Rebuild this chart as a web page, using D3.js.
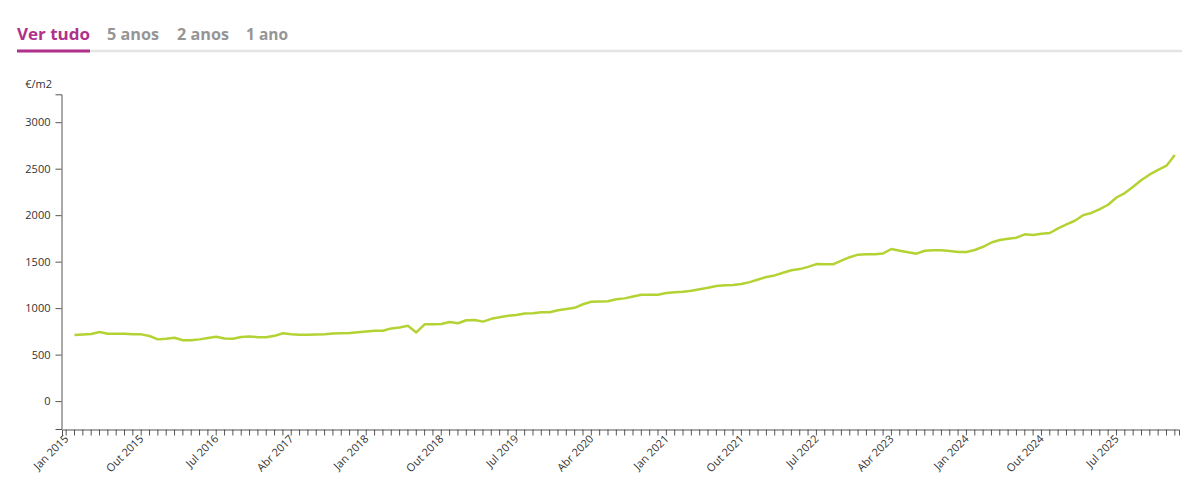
<!DOCTYPE html>
<html>
<head>
<meta charset="utf-8">
<script src="https://cdn.jsdelivr.net/npm/d3@7"></script>
<style>
  html, body { margin: 0; padding: 0; background: #fff; }
  svg { display: block; font-family: "Open Sans", "Noto Sans", sans-serif; }
</style>
</head>
<body>
<svg id="chart" width="1200" height="493"></svg>
<script>
// ---- data ----
const tabs = ["Ver tudo", "5 anos", "2 anos", "1 ano"];
const unitLabel = "€/m2";
const monthNames = ["Jan","Fev","Mar","Abr","Mai","Jun","Jul","Ago","Set","Out","Nov","Dez"];
const firstYear = 2015;
const monthCount = 134; // Jan 2015 .. Fev 2026
const tickLabels = ["Jan 2015","Out 2015","Jul 2016","Abr 2017","Jan 2018","Out 2018","Jul 2019",
  "Abr 2020","Jan 2021","Out 2021","Jul 2022","Abr 2023","Jan 2024","Out 2024","Jul 2025"];
const yTicks = [0, 500, 1000, 1500, 2000, 2500, 3000];
const yDomain = [-300, 3300];
// values from Fev 2015 to Fev 2026 (Jan 2015 has no value)
const values = [null,
  710, 716, 721, 743, 724, 724, 724, 718, 718, 700, 664,
  670, 681, 655, 655, 664, 678, 692, 673, 671, 689, 696, 688,
  686, 702, 730, 720, 714, 714, 716, 718, 728, 730, 733, 740,
  748, 757, 757, 782, 792, 810, 739, 826, 828, 829, 850, 838,
  870, 872, 855, 885, 903, 918, 926, 942, 944, 955, 955, 978,
  990, 1003, 1042, 1068, 1072, 1075, 1095, 1105, 1125, 1144, 1144, 1144,
  1162, 1170, 1176, 1188, 1203, 1220, 1238, 1245, 1250, 1259, 1280, 1308,
  1335, 1352, 1380, 1407, 1420, 1444, 1474, 1473, 1471, 1510, 1548, 1575,
  1579, 1579, 1588, 1636, 1618, 1601, 1586, 1617, 1622, 1622, 1615, 1604,
  1604, 1625, 1660, 1706, 1733, 1747, 1758, 1794, 1787, 1800, 1808, 1858,
  1900, 1940, 2000, 2024, 2066, 2112, 2190, 2238, 2306, 2378, 2438, 2487,
  2532, 2648
];

const categories = [];
for (let i = 0; i < monthCount; i++) {
  categories.push(monthNames[i % 12] + " " + (firstYear + Math.floor(i / 12)));
}

// ---- drawing ----
const svg = d3.select("#chart");
const accent = "#b0318b";

// tabs
const tabX = [17, 107, 177, 246];
svg.append("line").attr("x1", 17).attr("x2", 1182).attr("y1", 51).attr("y2", 51)
  .attr("stroke", "#e4e4e4").attr("stroke-width", 2.5);
svg.append("line").attr("x1", 17).attr("x2", 90).attr("y1", 51).attr("y2", 51)
  .attr("stroke", accent).attr("stroke-width", 3);
svg.selectAll("text.tab").data(tabs).join("text")
  .attr("class", "tab")
  .attr("x", (d, i) => tabX[i]).attr("y", 40)
  .attr("font-size", 16.5).attr("font-weight", 700)
  .attr("fill", (d, i) => i === 0 ? accent : "#959595")
  .attr("textLength", (d, i) => [73, 52, 52, 42][i])
  .attr("lengthAdjust", "spacingAndGlyphs")
  .text(d => d);

const x = d3.scaleBand().domain(categories).range([62, 1179]).padding(0);
const y = d3.scaleLinear().domain(yDomain).range([429, 94.3]);

// y axis
const yAxis = svg.append("g").attr("transform", "translate(61.5,0)")
  .call(d3.axisLeft(y).tickValues(yTicks).tickFormat(d3.format("d"))
    .tickSize(6).tickSizeOuter(6).tickPadding(5));
yAxis.select(".domain").attr("stroke", "#555");
yAxis.selectAll(".tick line").attr("stroke", "#555");
yAxis.selectAll(".tick text").attr("fill", "#333").attr("font-size", 11)
  .attr("font-family", "'Open Sans', sans-serif");

svg.append("text").attr("x", 52).attr("y", 88).attr("text-anchor", "end")
  .attr("font-size", 11).attr("fill", "#333").text(unitLabel);

// x axis
const xAxis = svg.append("g").attr("transform", "translate(0,429.5)")
  .call(d3.axisBottom(x).tickValues(categories)
    .tickFormat(d => tickLabels.includes(d) ? d : "")
    .tickSize(6).tickSizeOuter(6));
xAxis.select(".domain").attr("stroke", "#555");
xAxis.selectAll(".tick line").attr("stroke", "#555");
xAxis.selectAll(".tick text")
  .attr("y", null).attr("dy", null)
  .attr("transform", "translate(3,10) rotate(-45)")
  .attr("text-anchor", "end")
  .attr("fill", "#333").attr("font-size", 11)
  .attr("font-family", "'Open Sans', sans-serif");

// line
const pts = categories.map((c, i) => ({ c, v: values[i] }));
const line = d3.line()
  .defined(d => d.v != null)
  .x(d => x(d.c) + x.bandwidth() / 2)
  .y(d => y(d.v));
svg.append("path").datum(pts)
  .attr("fill", "none").attr("stroke", "#b3d334").attr("stroke-width", 2.5)
  .attr("stroke-linejoin", "round").attr("d", line);
</script>
</body>
</html>
